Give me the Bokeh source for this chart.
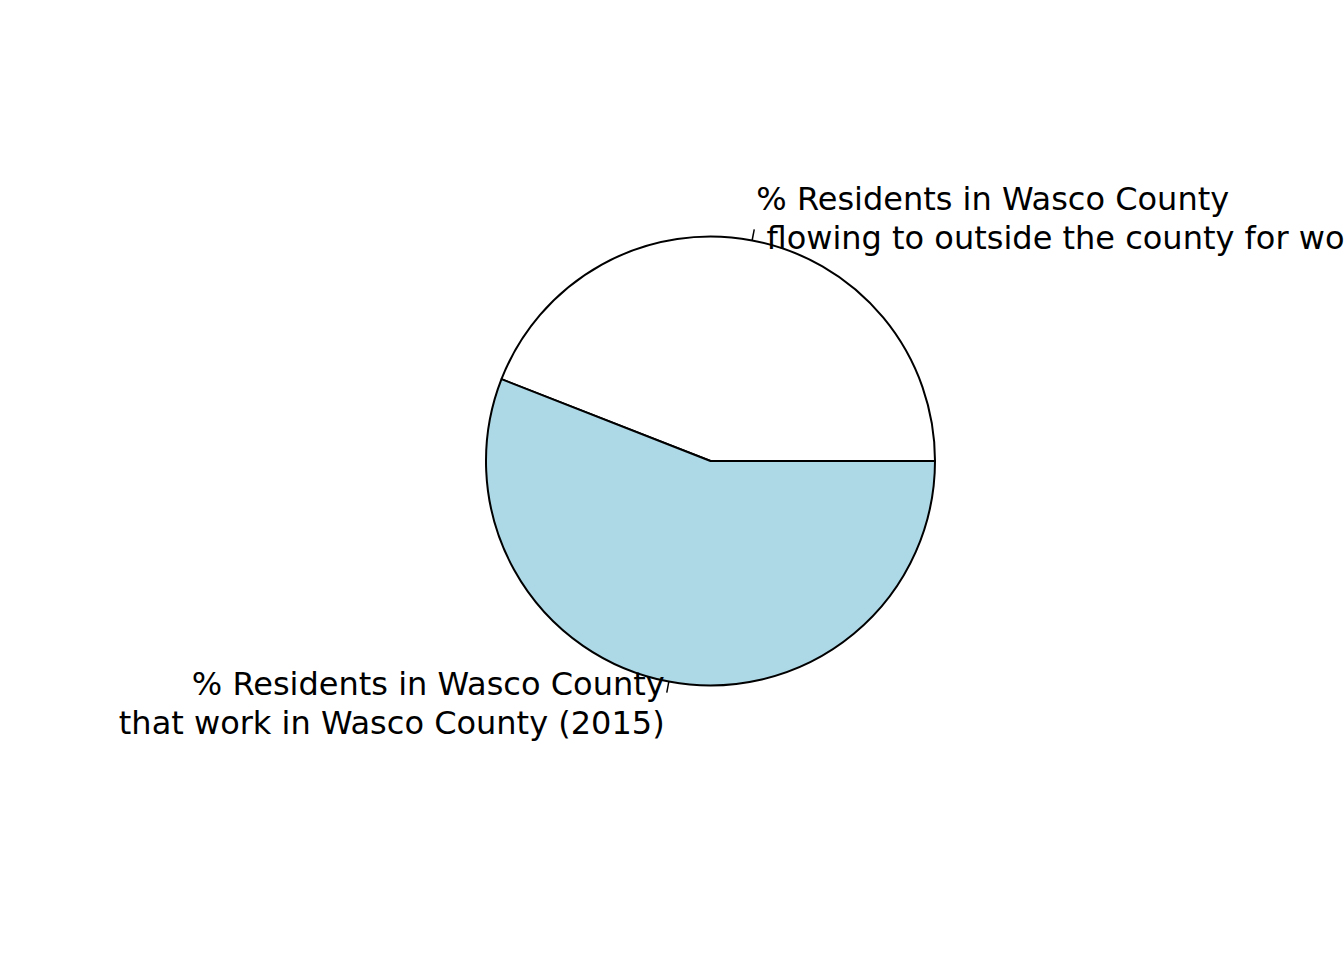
import numpy as np
from bokeh.plotting import figure
from bokeh.models import Range1d, ColumnDataSource
from bokeh.core.properties import value
from bokeh.embed import file_html
from bokeh.resources import INLINE

# Data
labels = ["% Residents in Wasco County\n flowing to outside the county for work (2015)",
          "% Residents in Wasco County\nthat work in Wasco County (2015)"]
shares = [44.06, 55.94]
colors = ["white", "lightblue"]

W, H = 1344, 960
cx_px, cy_px, r_px = 710, 460.5, 224.5
FONT_PX = 32

p = figure(width=W, height=H, output_backend="svg", toolbar_location=None,
           min_border=0, outline_line_color=None, match_aspect=False)
p.x_range = Range1d(-cx_px / r_px, (W - cx_px) / r_px)
p.y_range = Range1d(-(H - cy_px) / r_px, cy_px / r_px)
p.axis.visible = False
p.grid.visible = False
p.background_fill_color = "white"
p.border_fill_color = "white"

vals = np.array(shares, dtype=float)
frac = vals / vals.sum()
ends = np.cumsum(frac) * 2 * np.pi
starts = np.concatenate([[0.0], ends[:-1]])
mids = (starts + ends) / 2

src = ColumnDataSource(dict(start=starts, end=ends, color=colors))
p.wedge(x=0, y=0, radius=1, start_angle="start", end_angle="end", direction="anticlock",
        fill_color="color", line_color="black", line_width=2, source=src)

# tick marks
p.segment(x0=np.cos(mids) * 1.0, y0=np.sin(mids) * 1.0,
          x1=np.cos(mids) * 1.05, y1=np.sin(mids) * 1.05,
          line_color="black", line_width=1.5)

# labels
for m, lab in zip(mids, labels):
    lines = lab.split("\n")
    n = len(lines)
    lx, ly = 1.1 * np.cos(m), 1.1 * np.sin(m)
    align = "left" if np.cos(m) > 0 else "right"
    spacing = 38.5
    for i, ln in enumerate(lines):
        off = (i - (n - 1) / 2) * spacing
        lead = len(ln) - len(ln.lstrip(" "))
        xoff = lead * 0.318 * FONT_PX if align == "left" else 0
        p.text(x=[lx], y=[ly], text=[ln.strip()], text_align=align, text_baseline="middle",
               x_offset=xoff, y_offset=off, text_font=value("DejaVu Sans"),
               text_font_size=f"{FONT_PX}px", text_color="black")

open("out.html", "w").write(file_html(p, INLINE))
